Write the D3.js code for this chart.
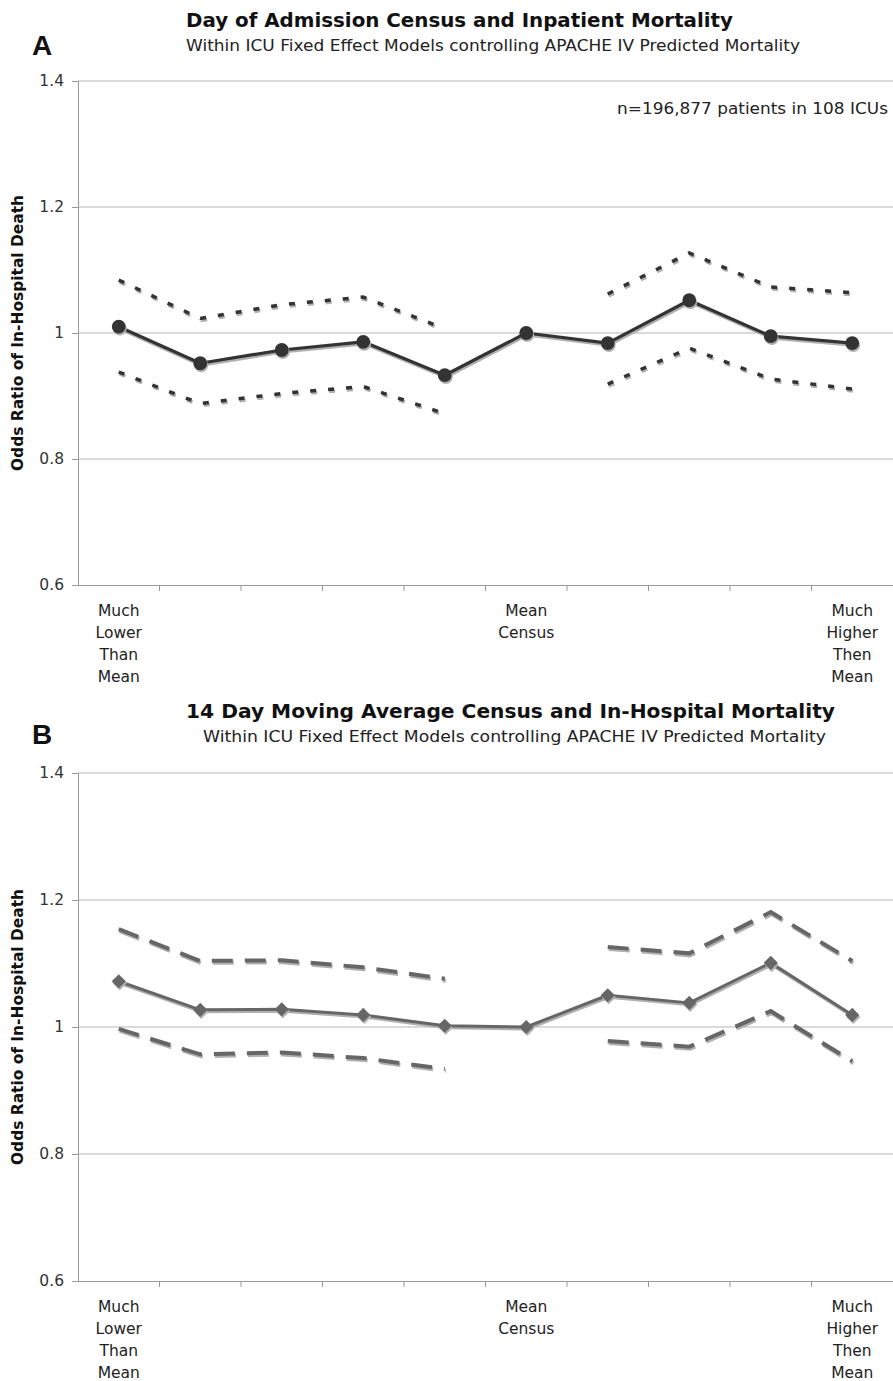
<!DOCTYPE html>
<html><head><meta charset="utf-8">
<script src="https://cdnjs.cloudflare.com/ajax/libs/d3/7.8.5/d3.min.js"></script>
<style>body{margin:0;background:#fff}svg{display:block}</style>
</head><body>
<script>
// ---- data ----
const categories = ["Much\nLower\nThan\nMean","","","","","Mean\nCensus","","","","Much\nHigher\nThen\nMean"];
const yTicks = [0.6, 0.8, 1, 1.2, 1.4];
const yTickLabels = ["0.6", "0.8", "1", "1.2", "1.4"];

const admitOR    = [1.010, 0.952, 0.973, 0.986, 0.933, 1.000, 0.984, 1.052, 0.995, 0.984];
const admitUpper = [1.084, 1.023, 1.045, 1.057, 1.007, null, 1.062, 1.127, 1.073, 1.064];
const admitLower = [0.938, 0.888, 0.904, 0.915, 0.872, null, 0.919, 0.976, 0.927, 0.911];

const movOR    = [1.072, 1.027, 1.028, 1.019, 1.002, 1.000, 1.050, 1.038, 1.101, 1.019];
const movUpper = [1.154, 1.104, 1.105, 1.094, 1.076, null, 1.126, 1.116, 1.181, 1.104];
const movLower = [0.997, 0.957, 0.960, 0.951, 0.934, null, 0.978, 0.969, 1.025, 0.946];

const W = 893, H = 1381;
const svg = d3.select("body").append("svg").attr("width", W).attr("height", H)
  .style("font-family", "'DejaVu Sans', Verdana, sans-serif");

function panel(o) {
  const g = svg.append("g");
  const x = d3.scaleBand().domain(d3.range(categories.length)).range([78, 893]);
  const cx = i => x(i) + x.bandwidth() / 2;
  const y = d3.scaleLinear().domain([0.6, 1.4]).range([o.bottom, o.top]);

  // panel letter
  g.append("text").attr("x", 32).attr("y", o.letterY).text(o.letter)
    .attr("font-size", 28).attr("font-weight", "bold").attr("fill", "#111")
    .attr("font-family", "'Liberation Sans', Arial, sans-serif");
  // titles
  g.append("text").attr("x", o.titleX).attr("y", o.titleY).text(o.title)
    .attr("font-size", 19).attr("font-weight", "bold").attr("fill", "#111")
    .attr("textLength", o.titleLen).attr("lengthAdjust", "spacingAndGlyphs");
  g.append("text").attr("x", o.subX).attr("y", o.subY).text(o.sub)
    .attr("font-size", 15.5).attr("fill", "#222")
    .attr("textLength", o.subLen).attr("lengthAdjust", "spacingAndGlyphs");

  // gridlines
  g.append("g").selectAll("line").data(yTicks.filter(t => t > 0.6)).join("line")
    .attr("x1", 78).attr("x2", 893).attr("y1", d => y(d)).attr("y2", d => y(d))
    .attr("stroke", "#b5b5b5").attr("stroke-width", 1);

  // y axis
  const ya = d3.axisLeft(y).tickValues(yTicks).tickFormat((d, i) => yTickLabels[i]).tickSize(6).tickPadding(8);
  const yg = g.append("g").attr("transform", "translate(78,0)").call(ya);
  yg.select(".domain").attr("stroke", "#999");
  yg.selectAll(".tick line").attr("stroke", "#999");
  yg.selectAll(".tick text").attr("font-size", 15.5).attr("fill", "#333")
    .attr("font-family", "'DejaVu Sans', Verdana, sans-serif");

  // x axis
  const xa = d3.axisBottom(x).tickSize(0).tickFormat("");
  const xg = g.append("g").attr("transform", `translate(0,${y(0.6)})`).call(xa);
  xg.select(".domain").attr("stroke", "#999");
  g.append("g").selectAll("line").data(d3.range(1, categories.length)).join("line")
    .attr("x1", d => x(d)).attr("x2", d => x(d))
    .attr("y1", y(0.6)).attr("y2", y(0.6) + 6).attr("stroke", "#999");
  // category labels
  const lab = g.append("g").selectAll("text").data(categories.map((c, i) => ({c, i})).filter(d => d.c))
    .join("text").attr("text-anchor", "middle").attr("font-size", 15.5).attr("fill", "#222");
  lab.each(function(d) {
    const t = d3.select(this);
    d.c.split("\n").forEach((s, k) => {
      t.append("tspan").attr("x", cx(d.i)).attr("y", y(0.6) + 31 + k * 22).text(s);
    });
  });

  // y axis title
  g.append("text").attr("transform", `translate(23,${(o.top + o.bottom) / 2}) rotate(-90)`)
    .attr("text-anchor", "middle").attr("font-size", 15).attr("font-weight", "bold").attr("fill", "#111")
    .attr("textLength", 276).attr("lengthAdjust", "spacingAndGlyphs")
    .text("Odds Ratio of In-Hospital Death");

  if (o.note) {
    g.append("text").attr("x", 888).attr("y", o.top + 33).attr("text-anchor", "end")
      .attr("font-size", 15).attr("fill", "#222")
      .attr("textLength", 271).attr("lengthAdjust", "spacingAndGlyphs").text(o.note);
  }

  const line = d3.line().defined(d => d != null).x((d, i) => cx(i)).y(d => y(d));
  const lineIdx = d3.line().defined(d => d.v != null).x(d => cx(d.i)).y(d => y(d.v));
  const asPts = arr => arr.map((v, i) => ({v, i}));

  // CI lines (shadow + main)
  [o.upper, o.lower].forEach(arr => {
    [["#b0b0b0", 1, 2], [o.ciColor, 0, 0]].forEach(([col, dx, dy]) => {
      g.append("path").attr("d", lineIdx(asPts(arr))).attr("fill", "none")
        .attr("stroke", col).attr("stroke-width", o.ciWidth)
        .attr("stroke-dasharray", o.dash).attr("transform", `translate(${dx},${dy})`);
    });
  });
  // main line
  [["#b0b0b0", 1, 2], [o.color, 0, 0]].forEach(([col, dx, dy]) => {
    g.append("path").attr("d", line(o.vals)).attr("fill", "none")
      .attr("stroke", col).attr("stroke-width", o.lineWidth).attr("stroke-linejoin", "round")
      .attr("transform", `translate(${dx},${dy})`);
  });
  // markers
  const sym = d3.symbol().type(o.marker).size(o.markerSize);
  [["#b0b0b0", 1, 2], [o.color, 0, 0]].forEach(([col, dx, dy]) => {
    g.append("g").selectAll("path").data(o.vals).join("path")
      .attr("d", sym).attr("fill", col)
      .attr("transform", (d, i) => `translate(${cx(i) + dx},${y(d) + dy}) rotate(${o.rot})`);
  });
}

panel({
  letter: "A", letterY: 55, top: 81, bottom: 585,
  title: "Day of Admission Census and Inpatient Mortality", titleX: 186, titleY: 27, titleLen: 547,
  sub: "Within ICU Fixed Effect Models controlling APACHE IV Predicted Mortality", subX: 186, subY: 51, subLen: 614,
  note: "n=196,877 patients in 108 ICUs",
  vals: admitOR, upper: admitUpper, lower: admitLower,
  color: "#333", ciColor: "#333", ciWidth: 3.5, dash: "6,12", lineWidth: 3.2,
  marker: d3.symbolCircle, markerSize: 150, rot: 0
});

panel({
  letter: "B", letterY: 744, top: 773, bottom: 1281,
  title: "14 Day Moving Average Census and In-Hospital Mortality", titleX: 186, titleY: 718, titleLen: 649,
  sub: "Within ICU Fixed Effect Models controlling APACHE IV Predicted Mortality", subX: 203, subY: 742, subLen: 623,
  note: null,
  vals: movOR, upper: movUpper, lower: movLower,
  color: "#666", ciColor: "#666", ciWidth: 4, dash: "21,12", lineWidth: 3,
  marker: d3.symbolSquare, markerSize: 100, rot: 45
});
</script>
</body></html>
